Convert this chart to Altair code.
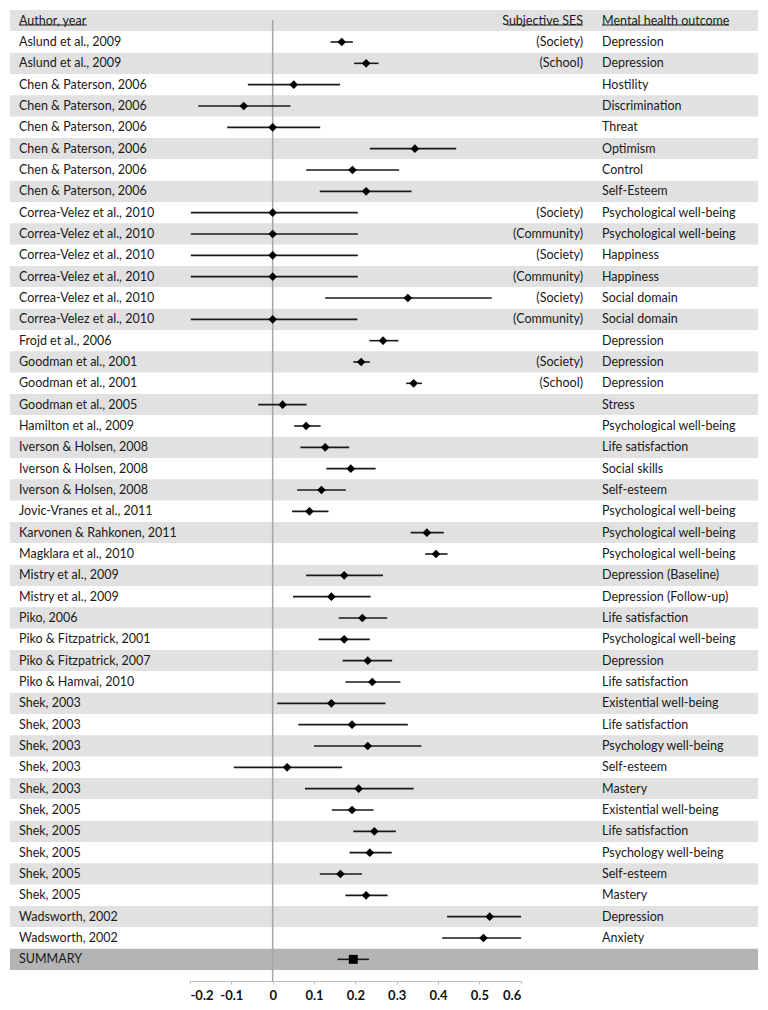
import altair as alt
import pandas as pd

authors = [
    "Aslund et al., 2009", "Aslund et al., 2009",
    "Chen & Paterson, 2006", "Chen & Paterson, 2006", "Chen & Paterson, 2006",
    "Chen & Paterson, 2006", "Chen & Paterson, 2006", "Chen & Paterson, 2006",
    "Correa-Velez et al., 2010", "Correa-Velez et al., 2010", "Correa-Velez et al., 2010",
    "Correa-Velez et al., 2010", "Correa-Velez et al., 2010", "Correa-Velez et al., 2010",
    "Frojd et al., 2006", "Goodman et al., 2001", "Goodman et al., 2001",
    "Goodman et al., 2005", "Hamilton et al., 2009",
    "Iverson & Holsen, 2008", "Iverson & Holsen, 2008", "Iverson & Holsen, 2008",
    "Jovic-Vranes et al., 2011", "Karvonen & Rahkonen, 2011", "Magklara et al., 2010",
    "Mistry et al., 2009", "Mistry et al., 2009", "Piko, 2006",
    "Piko & Fitzpatrick, 2001", "Piko & Fitzpatrick, 2007", "Piko & Hamvai, 2010",
    "Shek, 2003", "Shek, 2003", "Shek, 2003", "Shek, 2003", "Shek, 2003",
    "Shek, 2005", "Shek, 2005", "Shek, 2005", "Shek, 2005", "Shek, 2005",
    "Wadsworth, 2002", "Wadsworth, 2002", "SUMMARY",
]
ses = [
    "(Society)", "(School)", "", "", "", "", "", "",
    "(Society)", "(Community)", "(Society)", "(Community)", "(Society)", "(Community)",
    "", "(Society)", "(School)", "", "", "", "", "", "", "", "", "", "", "",
    "", "", "", "", "", "", "", "", "", "", "", "", "", "", "", "",
]
outcomes = [
    "Depression", "Depression", "Hostility", "Discrimination", "Threat", "Optimism",
    "Control", "Self-Esteem", "Psychological well-being", "Psychological well-being",
    "Happiness", "Happiness", "Social domain", "Social domain", "Depression",
    "Depression", "Depression", "Stress", "Psychological well-being",
    "Life satisfaction", "Social skills", "Self-esteem", "Psychological well-being",
    "Psychological well-being", "Psychological well-being", "Depression (Baseline)",
    "Depression (Follow-up)", "Life satisfaction", "Psychological well-being",
    "Depression", "Life satisfaction", "Existential well-being", "Life satisfaction",
    "Psychology well-being", "Self-esteem", "Mastery", "Existential well-being",
    "Life satisfaction", "Psychology well-being", "Self-esteem", "Mastery",
    "Depression", "Anxiety", "",
]
estimates = [
    0.167, 0.226, 0.051, -0.070, 0.000, 0.344, 0.193, 0.226,
    0.000, 0.000, 0.000, 0.000, 0.327, 0.000,
    0.267, 0.214, 0.341, 0.024, 0.081, 0.127, 0.189, 0.118,
    0.089, 0.373, 0.395, 0.173, 0.142, 0.217, 0.173, 0.230, 0.241,
    0.142, 0.192, 0.230, 0.035, 0.208,
    0.192, 0.246, 0.235, 0.164, 0.226,
    0.525, 0.510, 0.195,
]
lower = [
    0.140, 0.197, -0.060, -0.180, -0.110, 0.235, 0.081, 0.114,
    -0.198, -0.198, -0.198, -0.198, 0.127, -0.198,
    0.234, 0.195, 0.323, -0.035, 0.052, 0.067, 0.130, 0.059,
    0.047, 0.334, 0.369, 0.081, 0.049, 0.160, 0.111, 0.169, 0.176,
    0.011, 0.062, 0.100, -0.094, 0.078,
    0.143, 0.195, 0.186, 0.114, 0.176,
    0.422, 0.410, 0.157,
]
upper = [
    0.194, 0.256, 0.163, 0.043, 0.115, 0.444, 0.306, 0.336,
    0.206, 0.206, 0.206, 0.206, 0.530, 0.205,
    0.304, 0.235, 0.361, 0.082, 0.116, 0.185, 0.249, 0.177,
    0.135, 0.414, 0.423, 0.267, 0.237, 0.277, 0.235, 0.289, 0.309,
    0.273, 0.327, 0.360, 0.168, 0.341,
    0.244, 0.298, 0.288, 0.216, 0.278,
    0.601, 0.601, 0.233,
]
header_labels = ["Author, year", "Subjective SES", "Mental health outcome"]
tick_values = [-0.2, -0.1, 0.0, 0.1, 0.2, 0.3, 0.4, 0.5, 0.6]

n = len(authors)
df = pd.DataFrame({
    "row": list(range(1, n + 1)),
    "author": authors,
    "ses": ses,
    "outcome": outcomes,
    "est": estimates,
    "lo": lower,
    "hi": upper,
    "kind": ["study"] * (n - 1) + ["summary"],
})
header = pd.DataFrame({
    "row": [0],
    "author": [header_labels[0]],
    "ses": [header_labels[1]],
    "outcome": [header_labels[2]],
})
labels = pd.concat([header, df[["row", "author", "ses", "outcome"]]], ignore_index=True)
bands = pd.DataFrame({"row": list(range(0, n + 1))})
bands["shade"] = ["dark" if r == n else ("light" if r % 2 == 0 else "white") for r in bands["row"]]

FONT = "Lato"
W, H = 748, 960

xscale = alt.Scale(domain=[-0.2, 0.6], range=[180, 510.7], nice=False, zero=False)
yscale = alt.Scale(domain=[-0.5, n + 0.5], reverse=True, nice=False, zero=False)
yenc = alt.Y("row:Q", scale=yscale, axis=None)

band_layer = alt.Chart(bands).mark_rect().transform_calculate(
    y0="datum.row - 0.5", y1="datum.row + 0.5"
).encode(
    x=alt.value(0), x2=alt.value(W),
    y=alt.Y("y0:Q", scale=yscale, axis=None), y2="y1:Q",
    color=alt.Color("shade:N", scale=alt.Scale(domain=["light", "white", "dark"],
                                               range=["#e1e1e1", "#ffffff", "#b4b4b4"]), legend=None),
)

zero_line = alt.Chart(df).mark_rule(color="#a6a6a6", strokeWidth=1.5).encode(
    x=alt.X("z:Q", scale=xscale, axis=alt.Axis(
        values=tick_values, title=None, grid=False, domainColor="#bdbdbd", tickColor="#bdbdbd",
        tickSize=3, offset=11, labelFont=FONT, labelFontSize=13, labelFontWeight="bold",
        labelColor="#111", labelPadding=5,
        labelExpr="datum.value == 0 ? '0' : (datum.value < 0 ? '-' : '') + format(abs(datum.value), '.1f')")),
    y=alt.value(10), y2=alt.value(H + 11),
).transform_calculate(z="0").transform_filter("datum.row == 1")

whiskers = alt.Chart(df).mark_rule(color="#1a1a1a", strokeWidth=1.6).encode(
    x=alt.X("lo:Q", scale=xscale), x2="hi:Q", y=yenc,
)
diamonds = alt.Chart(df).transform_filter("datum.kind == 'study'").mark_point(
    shape="diamond", filled=True, color="#000", size=75, opacity=1
).encode(x=alt.X("est:Q", scale=xscale), y=yenc)
square = alt.Chart(df).transform_filter("datum.kind == 'summary'").mark_point(
    shape="square", filled=True, color="#000", size=80, opacity=1
).encode(x=alt.X("est:Q", scale=xscale), y=yenc)

txt = dict(font=FONT, fontSize=12.5, color="#1a1a1a", baseline="middle")
author_text = alt.Chart(labels).mark_text(align="left", **txt).encode(
    x=alt.value(9), y=yenc, text="author:N")
ses_text = alt.Chart(labels).mark_text(align="right", **txt).encode(
    x=alt.value(573), y=yenc, text="ses:N")
outcome_text = alt.Chart(labels).mark_text(align="left", **txt).encode(
    x=alt.value(592), y=yenc, text="outcome:N")

ul = pd.DataFrame({"a": [9, 497, 592], "b": [77, 573, 719]})
underlines = alt.Chart(ul).mark_rule(color="#1a1a1a", strokeWidth=1).encode(
    x=alt.X("a:Q", scale=None), x2="b:Q", y=alt.value(15),
)

chart = alt.layer(
    band_layer, zero_line, whiskers, diamonds, square,
    author_text, ses_text, outcome_text, underlines,
).properties(
    width=W, height=H, padding={"left": 2, "top": 2, "right": 2, "bottom": 2}
).configure_view(stroke=None)

chart.save("out.html", embed_options={"renderer": "svg", "actions": False})
